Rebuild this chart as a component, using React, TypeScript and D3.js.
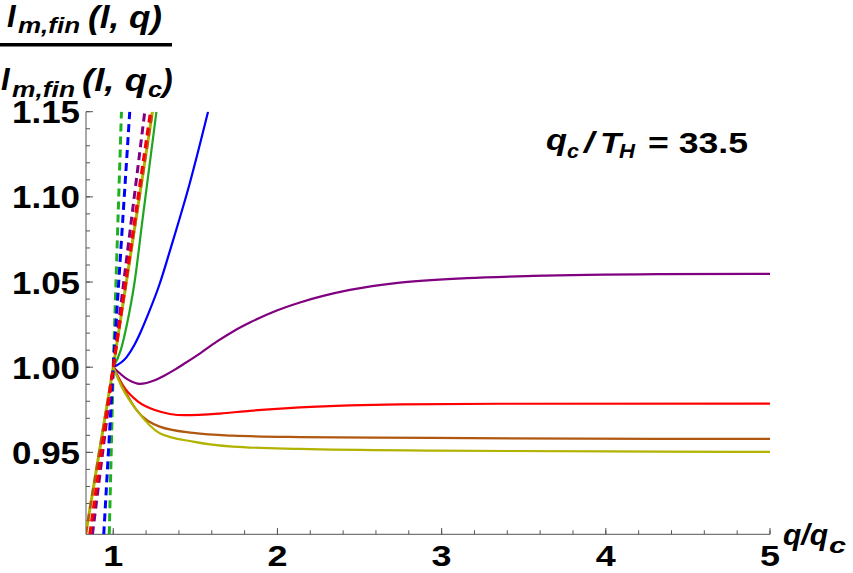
import React from "react";
import * as d3 from "d3";

// solid curves, q/q_c > 1 branch
const qGreen = [1, 1.046, 1.085, 1.13, 1.178, 1.263];
const vGreen = [1, 1.0102, 1.026, 1.05, 1.0865, 1.15];

const qBlue = [1, 1.0804, 1.131, 1.1615, 1.212, 1.283, 1.3565, 1.466, 1.5777];
const vBlue = [1, 1.0058, 1.0135, 1.0195, 1.031, 1.049, 1.072, 1.108, 1.1501];

const qPurple = [1, 1.09, 1.1615, 1.253, 1.31, 1.375, 1.436, 1.527, 1.63, 1.73, 1.832, 2.0, 2.137, 2.441, 2.746, 3.152, 3.556, 4.322, 5];
const vPurple = [1, 0.9927, 0.9902, 0.9923, 0.995, 0.9986, 1.0023, 1.008, 1.015, 1.021, 1.0262, 1.0334, 1.038, 1.0454, 1.0497, 1.0523, 1.0536, 1.0546, 1.0548];

const qRed = [1, 1.07, 1.151, 1.253, 1.436, 1.649, 1.832, 2.137, 2.441, 2.746, 3.355, 5];
const vRed = [1, 0.98767, 0.9798, 0.9749, 0.97181, 0.9728, 0.9744, 0.9764, 0.9776, 0.9782, 0.97855, 0.97863];

const qBrown = [1, 1.0518, 1.141, 1.283, 1.486, 1.728, 2.137, 2.947, 4.322, 5];
const vBrown = [1, 0.98966, 0.97493, 0.96512, 0.9614, 0.9598, 0.959, 0.95848, 0.9579, 0.9579];

const qYellow = [1, 1.0518, 1.151, 1.283, 1.486, 1.728, 2.137, 2.947, 4.322, 5];
const vYellow = [1, 0.98843, 0.97375, 0.96125, 0.95631, 0.95338, 0.95203, 0.95103, 0.95044, 0.95026];

// steep common branch of the solid curves
const qBundle = [0.8324, 1, 1.239];
const vBundle = [0.9019, 1, 1.1501];

// dashed lines
const qGreenDash = [0.9756, 1, 1.05];
const qBlueDash = [0.9421, 1, 1.1005];
const qPurpleDash = [0.8733, 1, 1.192];
const qRedDash = [0.8568, 1, 1.2267];
const vDash = [0.9019, 1, 1.1501];

const xTicks = [1, 2, 3, 4, 5];
const yTicks = [0.95, 1.0, 1.05, 1.1, 1.15];

const FONT = "'Liberation Sans', Arial, sans-serif";

const App = () => {
  const x = d3.scaleLinear().domain([0.834, 5]).range([86, 770]);
  const y = d3.scaleLinear().domain([0.9019, 1.15]).range([534.3, 111.7]);

  const smooth = d3
    .line<[number, number]>()
    .x((d) => x(d[0]))
    .y((d) => y(d[1]))
    .curve(d3.curveMonotoneX);
  const straight = d3
    .line<[number, number]>()
    .x((d) => x(d[0]))
    .y((d) => y(d[1]))
    .curve(d3.curveLinear);

  const zip = (qs: number[], vs: number[]) =>
    qs.map((q, i) => [q, vs[i]] as [number, number]);

  const solids = [
    { q: qGreen, v: vGreen, c: "#1fa61f" },
    { q: qBlue, v: vBlue, c: "#0000ff" },
    { q: qPurple, v: vPurple, c: "#800080" },
    { q: qRed, v: vRed, c: "#ff0000" },
    { q: qBrown, v: vBrown, c: "#b0580f" },
    { q: qYellow, v: vYellow, c: "#b2b200" },
  ];
  const dashes = [
    { q: qGreenDash, c: "#1fb01f" },
    { q: qBlueDash, c: "#0000ff" },
    { q: qPurpleDash, c: "#800080" },
    { q: qRedDash, c: "#ff0000" },
  ];

  const xMinor = d3.range(1, 5.001, 0.2);
  const yMinor = d3.range(0.91, 1.1501, 0.01);

  return (
    <svg
      width={853}
      height={573}
      style={{ position: "absolute", left: 0, top: 0, background: "#fff" }}
      fontFamily={FONT}
    >
      <defs>
        <clipPath id="plot">
          <rect x={86} y={111.7} width={684} height={422.6} />
        </clipPath>
      </defs>

      {/* axes */}
      <g stroke="#555" strokeWidth={1}>
        <line x1={86} x2={86} y1={111.7} y2={534.3} />
        <line x1={86} x2={770} y1={534.3} y2={534.3} />
        {yMinor.map((t, i) => (
          <line key={"ym" + i} x1={86} x2={90} y1={y(t)} y2={y(t)} />
        ))}
        {yTicks.map((t) => (
          <line key={"yM" + t} x1={86} x2={93} y1={y(t)} y2={y(t)} />
        ))}
        {xMinor.map((t, i) => (
          <line key={"xm" + i} x1={x(t)} x2={x(t)} y1={534.3} y2={530.3} />
        ))}
        {xTicks.map((t) => (
          <line key={"xM" + t} x1={x(t)} x2={x(t)} y1={534.3} y2={528} />
        ))}
      </g>

      {/* tick labels */}
      <g fontWeight="bold" fontSize={32} fill="#000">
        {yTicks.map((t) => (
          <text
            key={"yl" + t}
            x={12}
            y={y(t) + 11.5}
            textLength={68}
            lengthAdjust="spacingAndGlyphs"
          >
            {t.toFixed(2)}
          </text>
        ))}
        {xTicks.map((t) => (
          <text
            key={"xl" + t}
            x={x(t) - 10}
            y={566}
            fontSize={30}
            textLength={20}
            lengthAdjust="spacingAndGlyphs"
          >
            {t}
          </text>
        ))}
      </g>

      {/* curves */}
      <g clipPath="url(#plot)" fill="none">
        <path d={straight(zip(qBundle, vBundle)) || ""} stroke="#b2b200" strokeWidth={3} />
        <path
          d={straight(zip(qBundle, vBundle)) || ""}
          stroke="#b0580f"
          strokeWidth={2.5}
          strokeDasharray="8,5"
        />
        {solids.map((s, i) => (
          <path key={"s" + i} d={smooth(zip(s.q, s.v)) || ""} stroke={s.c} strokeWidth={2.2} />
        ))}
        {dashes.map((s, i) => (
          <path
            key={"d" + i}
            d={straight(zip(s.q, vDash)) || ""}
            stroke={s.c}
            strokeWidth={3}
            strokeDasharray="8,5"
          />
        ))}
      </g>

      {/* y axis label: fraction */}
      <g fontWeight="bold" fontStyle="italic" fill="#000">
        <text fontSize={31}>
          <tspan x={7} y={27}>I</tspan>
        </text>
        <text fontSize={22} x={18} y={33} textLength={62} lengthAdjust="spacingAndGlyphs">
          m,fin
        </text>
        <text fontSize={32} x={88} y={28} textLength={74} lengthAdjust="spacingAndGlyphs">
          (l, q)
        </text>
        <rect x={0} y={43} width={172} height={3.5} />
        <text fontSize={31}>
          <tspan x={1} y={90}>I</tspan>
        </text>
        <text fontSize={22} x={12} y={97} textLength={63} lengthAdjust="spacingAndGlyphs">
          m,fin
        </text>
        <text fontSize={32} x={82} y={91} textLength={65} lengthAdjust="spacingAndGlyphs">
          (l, q
        </text>
        <text fontSize={22} x={148} y={97} textLength={14} lengthAdjust="spacingAndGlyphs">
          c
        </text>
        <text fontSize={32} x={162} y={91}>
          )
        </text>
      </g>

      {/* x axis label */}
      <g fontWeight="bold" fontStyle="italic" fill="#000">
        <text fontSize={30} x={783} y={545} textLength={45} lengthAdjust="spacingAndGlyphs">
          q/q
        </text>
        <text fontSize={22} x={829} y={553} textLength={17} lengthAdjust="spacingAndGlyphs">
          c
        </text>
      </g>

      {/* annotation */}
      <g fontWeight="bold" fill="#000">
        <text fontSize={29} fontStyle="italic" x={546} y={150} textLength={21} lengthAdjust="spacingAndGlyphs">
          q
        </text>
        <text fontSize={20} fontStyle="italic" x={567} y={158} textLength={12} lengthAdjust="spacingAndGlyphs">
          c
        </text>
        <text fontSize={29} fontStyle="italic" x={584} y={153} textLength={10} lengthAdjust="spacingAndGlyphs">
          /
        </text>
        <text fontSize={29} fontStyle="italic" x={600} y={153} textLength={21} lengthAdjust="spacingAndGlyphs">
          T
        </text>
        <text fontSize={20} fontStyle="italic" x={619} y={158} textLength={16} lengthAdjust="spacingAndGlyphs">
          H
        </text>
        <text fontSize={29} x={648} y={153} textLength={100} lengthAdjust="spacingAndGlyphs">
          = 33.5
        </text>
      </g>
    </svg>
  );
};

export default App;
